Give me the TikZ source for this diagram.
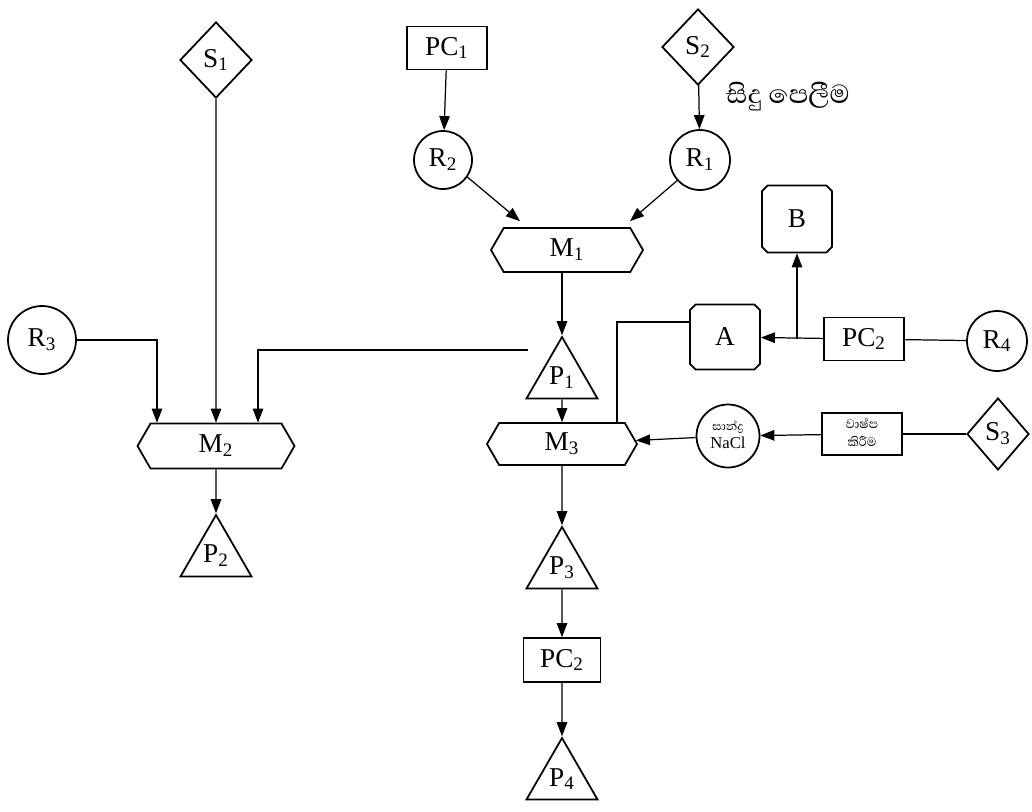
\documentclass[tikz,border=0pt]{standalone}
\usepackage{fontspec}
\setmainfont{Liberation Serif}
\newfontfamily\sinhala[Script=Sinhala]{Abhaya Libre}
\usetikzlibrary{shapes.geometric,shapes.symbols,shapes.misc,arrows.meta,calc}

\tikzset{
  src/.style={diamond, draw, line width=1pt, inner sep=0pt, minimum width=1.44cm, minimum height=1.52cm},
  proc/.style={rectangle, draw, line width=1pt, minimum width=1.6cm, minimum height=0.86cm, inner sep=1pt},
  raw/.style={circle, draw, line width=1pt, minimum size=1.16cm, inner sep=0pt},
  mix/.style={signal, signal to=east and west, signal pointer angle=120, draw, line width=1pt,
    minimum width=3.04cm, minimum height=0.88cm},
  prod/.style={regular polygon, regular polygon sides=3, draw, line width=1pt, minimum size=1.64cm, inner sep=0pt},
  store/.style={chamfered rectangle, chamfered rectangle xsep=1.6pt, chamfered rectangle ysep=1.6pt, draw, line width=1pt,
    minimum width=1.4cm, minimum height=1.3cm},
  flow/.style={line width=0.7pt, -{Triangle[length=8pt,width=6pt]}},
  link/.style={line width=0.7pt}
}
\newcommand{\ix}[1]{\textsubscript{#1}}

\begin{document}
\begin{tikzpicture}[x=0.02cm, y=-0.02cm, font=\fontsize{15.5}{17}\selectfont]
   \useasboundingbox (0,0) rectangle (1032,812);
   % top row
   \node[src] (s1) at (216,60) {S\ix{1}};
   \node[proc] (pc1) at (447,48) {PC\ix{1}};
   \node[src] (s2) at (698,47) {S\ix{2}};
   \node[font=\sinhala\fontsize{19}{21}\selectfont] (note) at (788,97) {සිදු පෙලීම};
   \node[raw] (r2) at (443,160) {R\ix{2}};
   \node[raw, minimum size=1.2cm] (r1) at (700,160) {R\ix{1}};
   \node[mix] (m1) at (567,250) {M\ix{1}};
   \node[store, minimum height=1.34cm] (b) at (797,219) {B};
   % middle row
   \node[raw, minimum size=1.36cm] (r3) at (42,340) {R\ix{3}};
   \node[prod] (p1) at (562,378) {P\ix{1}};
   \coordinate (p1l) at (528,350);
   \node[store] (a) at (725,337) {A};
   \node[proc] (pc2) at (864,339) {PC\ix{2}};
   \node[raw, minimum size=1.2cm] (r4) at (997,341) {R\ix{4}};
   \node[mix, minimum width=3.14cm, minimum height=0.9cm] (m2) at (216,446) {M\ix{2}};
   \node[mix, minimum width=3cm, minimum height=0.84cm] (m3) at (562,444) {M\ix{3}};
   \node[raw, minimum size=1.26cm, font=\fontsize{9.5}{10}\selectfont] (nacl) at (728,436)
      {\begin{tabular}{@{}c@{}}\sinhala\fontsize{8.5}{9}\selectfont සාන්ද්^^^^200dර\\NaCl\end{tabular}};
   \node[proc, font=\sinhala\fontsize{9}{10}\selectfont, minimum height=0.84cm] (evap) at (862,434)
      {\begin{tabular}{@{}c@{}}වාෂ්ප\\කිරීම\end{tabular}};
   \node[src, minimum width=1.24cm, minimum height=1.44cm] (s3) at (998,434) {S\ix{3}};
   % bottom
   \node[prod] (p2) at (216,556) {P\ix{2}};
   \node[prod] (p3) at (562,568) {P\ix{3}};
   \node[proc, minimum width=1.54cm, minimum height=0.88cm] (pc3) at (562,660) {PC\ix{2}};
   \node[prod] (p4) at (562,779) {P\ix{4}};

   \draw[flow] (pc1) -- (r2);
   \draw[flow] (s2) -- (r1);
   \draw[flow] (r2.-35) -- ($(m1.north)+(-47,-6)$);
   \draw[flow] (r1.222) -- ($(m1.north)+(63,-6)$);
   \draw[flow] (p1.north |- m1.south) -- (p1.north);
   \draw[flow] (p1) -- (m3);
   \draw[flow] (m3) -- (p3);
   \draw[flow] (p3) -- (pc3);
   \draw[flow] (pc3) -- (p4);
   \draw[flow] (m2) -- (p2);
   \draw[flow] (s1) -- (m2);
   \draw[flow] (r3.east) -| ($(m2.north)+(-59,0)$);
   \draw[flow] (p1l) -| ($(m2.north)+(42,0)$);
   \draw[flow] (pc2) -- (a);
   \draw[flow] (b.south |- pc2.west) -- (b.south);
   \draw[link] (pc2) -- (r4);
   \draw[link] ($(a.west)+(0,-15)$) -| ($(m3.north)+(55,0)$);
   \draw[link] (s3) -- (evap);
   \draw[flow] (evap) -- (nacl);
   \draw[flow] (nacl) -- (m3);
\end{tikzpicture}
\end{document}
